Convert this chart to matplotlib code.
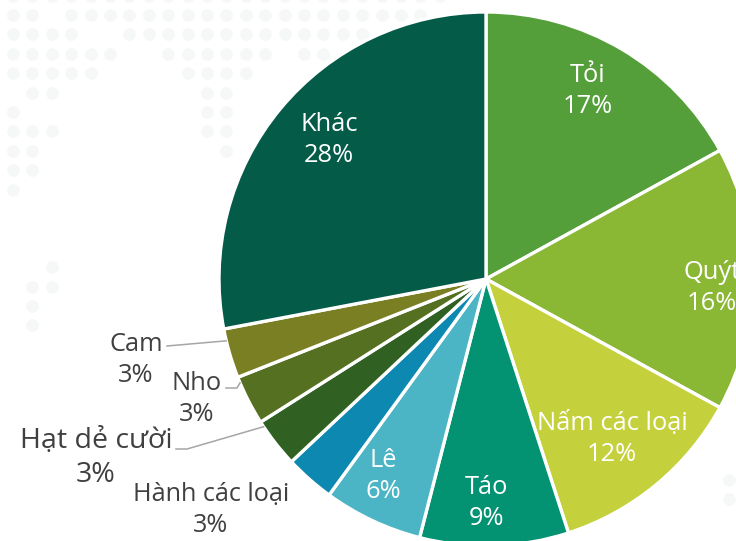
import matplotlib
matplotlib.use("Agg")
import matplotlib.pyplot as plt
from matplotlib.lines import Line2D
import numpy as np

plt.rcParams["font.family"] = ["Open Sans", "DejaVu Sans"]

# ---- data ----
labels = ["Tỏi", "Quýt", "Nấm các loại", "Táo", "Lê", "Hành các loại",
          "Hạt dẻ cười", "Nho", "Cam", "Khác"]
shares = [17, 16, 12, 9, 6, 3, 3, 3, 3, 28]
colors = ["#559F3B", "#8AB734", "#C4D13D", "#039373", "#4BB5C5", "#0C88B1",
          "#306022", "#557020", "#797F22", "#035B48"]

# faint background dot pattern (row index -> column indices)
dot_rows = {
    -1: list(range(0, 23)),
    0: [0, 1] + list(range(3, 22)),
    1: [0, 1, 2, 3] + list(range(6, 19)),
    2: [0, 1, 2, 3, 4, 5, 8, 9, 10, 11, 12, 13, 15, 16],
    3: [0, 1, 2, 3, 4, 9, 10, 11, 12],
    4: [1, 2, 10, 11],
    5: [0, 10, 11],
    6: [0, 1, 2, 10, 11],
    7: [0, 1, 11],
    8: [0, 1],
    9: [0],
    13: [2],
    14: [1, 2],
    15: [1],
    16: [1],
}

W, H = 736, 541
CX, CY, R = 486, 279, 267


def py(y):
    return H - y


fig = plt.figure(figsize=(W / 100, H / 100), dpi=100)
ax = fig.add_axes([0, 0, 1, 1])

# background dots
dx, dy = [], []
for r, cols in dot_rows.items():
    for c in cols:
        dx.append(13 + 19.4 * c)
        dy.append(py(15 + 19.4 * r))
dot_color = "#F6F8F8"
ax.scatter(dx, dy, s=85, marker="o", color=dot_color, linewidths=0, zorder=0)
ax.scatter([729, 729], [py(480), py(499)], s=85, marker="o", color=dot_color,
           linewidths=0, zorder=0)

wedges, _ = ax.pie(shares, colors=colors, startangle=90, counterclock=False,
                   center=(CX, py(CY)), radius=R,
                   wedgeprops=dict(edgecolor="white", linewidth=2.4))
for w in wedges:
    w.set_zorder(2)

ax.set_xlim(0, W)
ax.set_ylim(0, H)
ax.set_aspect("equal")
ax.axis("off")

# label placement (pixel centers), size, colour
inside = {
    "Tỏi": (588, 91), "Quýt": (712, 288), "Nấm các loại": (612, 439),
    "Táo": (486, 503), "Lê": (383, 476), "Khác": (329, 140),
}
outside = {
    "Cam": (136, 360, 18.4), "Nho": (197, 399, 18.4),
    "Hạt dẻ cười": (96, 458, 20.5), "Hành các loại": (211, 510, 18.2),
}

for name, val in zip(labels, shares):
    txt = f"{name}\n{val}%"
    if name in inside:
        x, y = inside[name]
        ax.text(x, py(y), txt, ha="center", va="center", color="white",
                fontsize=18.4, linespacing=1.32, zorder=5)
    else:
        x, y, fs = outside[name]
        ax.text(x, py(y), txt, ha="center", va="center", color="#404040",
                fontsize=fs, linespacing=1.28, zorder=5)


def edge_point(idx, t):
    w = wedges[idx]
    ang = np.deg2rad(w.theta2 - t * (w.theta2 - w.theta1))
    return CX + R * np.cos(ang), py(CY) + R * np.sin(ang)


leader = [
    (labels.index("Cam"), 0.76, [(167, 346)]),
    (labels.index("Nho"), 0.88, [(226, 388), (237, 388)]),
    (labels.index("Hạt dẻ cười"), 0.89, [(176, 449), (187, 449)]),
]
for idx, t, pts in leader:
    ex, ey = edge_point(idx, t)
    xs = [p[0] for p in pts] + [ex]
    ys = [py(p[1]) for p in pts] + [ey]
    ax.add_line(Line2D(xs, ys, color="#A6A6A6", linewidth=1.1, zorder=3))

fig.savefig("out.png", dpi=100, facecolor="white")
